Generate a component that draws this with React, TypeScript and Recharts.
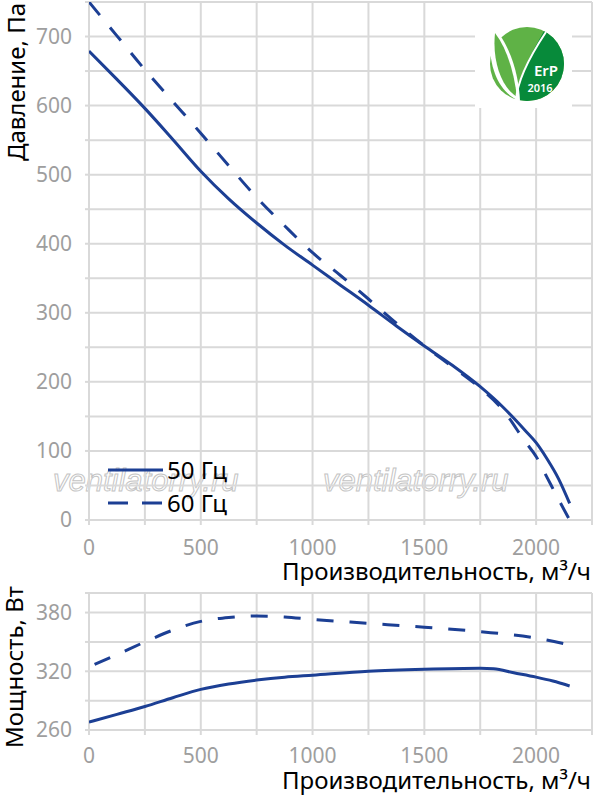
import { LineChart, Line, XAxis, YAxis, CartesianGrid, Legend } from 'recharts';

// давление, Па
const flowTop = [0, 125, 250, 375, 500, 625, 750, 875, 1000, 1125, 1250, 1375, 1500, 1625, 1750, 1850, 1950, 2000, 2050, 2100, 2150];
const pressure50 = [679, 638, 596, 551, 505, 465, 430, 398, 369, 340, 311, 281, 252, 224, 193, 164, 130, 112, 88, 60, 24];
const pressure60 = [750, 701, 652, 606, 560, 513, 467, 426, 387, 354, 320, 285, 252, 222, 191, 160, 114, 92, 61, 30, 0];

// мощность, Вт
const flowPower50 = [0, 125, 250, 375, 500, 625, 750, 875, 1000, 1250, 1500, 1750, 1810, 1900, 2000, 2075, 2150];
const power50 = [268, 276, 284, 293, 301.5, 307, 311, 314, 316, 320, 322, 323, 322.6, 318.5, 314, 310, 305];
const flowPower60 = [25, 125, 250, 375, 500, 625, 750, 875, 1000, 1250, 1500, 1750, 2000, 2150];
const power60 = [327, 337, 350, 362, 371, 375, 376.5, 375.5, 373, 369, 365, 360.5, 354, 347];

const xTicks = [0, 250, 500, 750, 1000, 1250, 1500, 1750, 2000, 2250];
const xLabels = [0, 500, 1000, 1500, 2000];
const pressureTicks = [0, 50, 100, 150, 200, 250, 300, 350, 400, 450, 500, 550, 600, 650, 700, 750];
const pressureLabels = [0, 100, 200, 300, 400, 500, 600, 700];
const powerTicks = [260, 290, 320, 350, 380, 400];
const powerLabels = [260, 320, 380];

const seriesNames = ['50 Гц', '60 Гц'];

const toPoints = (xs: number[], ys: number[]) => xs.map((x, i) => ({ x, y: ys[i] }));

const BLUE = '#1c3f94';
const GRID = '#d9d9d9';
const TICK = '#9e9e9e';
const FONT = '"Noto Sans", sans-serif';

const xTick = (props: any) => {
  const { x, y, payload } = props;
  if (!xLabels.includes(payload.value)) return <g />;
  return (
    <text x={x} y={y} dy="0.71em" textAnchor="middle" fill={TICK} fontSize={21} fontFamily={FONT}>
      {payload.value}
    </text>
  );
};

const yTick = (labels: number[]) => (props: any) => {
  const { x, y, payload } = props;
  if (!labels.includes(payload.value)) return <g />;
  return (
    <text x={x} y={y} dy="0.355em" textAnchor="end" fill={TICK} fontSize={21} fontFamily={FONT}>
      {payload.value}
    </text>
  );
};

const renderLegend = () => (
  <div style={{ fontFamily: FONT, fontSize: 24, color: '#000' }}>
    {seriesNames.map((name, i) => (
      <div key={name} style={{ display: 'flex', alignItems: 'center', height: 33 }}>
        <svg width={60} height={10}>
          <line
            x1={3}
            x2={58}
            y1={5}
            y2={5}
            stroke={BLUE}
            strokeWidth={3}
            strokeDasharray={i === 1 ? '20 14' : undefined}
          />
        </svg>
        <span style={{ marginLeft: 2, lineHeight: '33px' }}>{name}</span>
      </div>
    ))}
  </div>
);

function Watermark() {
  return (
    <svg width={597} height={798} style={{ position: 'absolute', left: 0, top: 0 }}>
      {[53, 323].map((x) => (
        <text
          key={x}
          x={x}
          y={491}
          fontFamily="Liberation Sans, Arial, sans-serif"
          fontStyle="italic"
          fontSize={31}
          fill="#fff"
          stroke="#c4c4c4"
          strokeWidth={1}
        >
          ventilatorry.ru
        </text>
      ))}
    </svg>
  );
}

function Overlay() {
  return (
    <svg width={597} height={798} style={{ position: 'absolute', left: 0, top: 0, pointerEvents: 'none' }}>
      <defs>
        <clipPath id="erp">
          <circle cx={527} cy={64} r={37} />
        </clipPath>
      </defs>
      <rect x={475} y={3} width={97} height={105} fill="#fff" />
      <g clipPath="url(#erp)">
        <rect x={488} y={25} width={80} height={80} fill="#5fb246" />
        <path d="M548 24 C532 52 516 80 515 104 L570 104 L570 24 Z" fill="#078a3a" />
      </g>
      <path d="M491 24 C486 60 496 92 520 101 C519 78 512 46 491 24 Z" fill="#fff" />
      <path d="M495 33 C492 62 502 88 517 97 C514 74 508 50 495 33 Z" fill="#5fb246" />
      <path d="M546 32 C530 56 517 80 516 101" fill="none" stroke="#fff" strokeWidth={2} />
      <text x={546} y={76} textAnchor="middle" fill="#fff" fontFamily={FONT} fontWeight={600} fontSize={15}>
        ErP
      </text>
      <text x={540} y={92} textAnchor="middle" fill="#fff" fontFamily={FONT} fontWeight={600} fontSize={11}>
        2016
      </text>

      <text transform="translate(25,82) rotate(-90)" textAnchor="middle" fontFamily={FONT} fontSize={24} fill="#000">
        Давление, Па
      </text>
      <text x={591} y={580} textAnchor="end" fontFamily={FONT} fontSize={24} fill="#000">
        Производительность, м³/ч
      </text>
      <text transform="translate(23,667) rotate(-90)" textAnchor="middle" fontFamily={FONT} fontSize={24} fill="#000">
        Мощность, Вт
      </text>
      <text x={591} y={789} textAnchor="end" fontFamily={FONT} fontSize={24} fill="#000">
        Производительность, м³/ч
      </text>
    </svg>
  );
}

export default function App() {
  return (
    <div style={{ position: 'absolute', left: 0, top: 0, width: 597, height: 798, background: '#fff' }}>
      <Watermark />
      <div style={{ position: 'absolute', left: 0, top: 0 }}>
        <LineChart width={597} height={590} margin={{ top: 2, right: 5, bottom: 0, left: 0 }}>
          <CartesianGrid stroke={GRID} strokeWidth={2} />
          <XAxis
            type="number"
            dataKey="x"
            domain={[0, 2250]}
            ticks={xTicks}
            interval={0}
            height={70}
            axisLine={false}
            tickLine={{ stroke: GRID, strokeWidth: 2 }}
            tickSize={5}
            tickMargin={15}
            tick={xTick}
            allowDataOverflow
          />
          <YAxis
            type="number"
            domain={[0, 750]}
            ticks={pressureTicks}
            interval={0}
            width={89}
            axisLine={false}
            tickLine={{ stroke: GRID, strokeWidth: 2 }}
            tickSize={4}
            tickMargin={13}
            tick={yTick(pressureLabels)}
            allowDataOverflow
          />
          <Legend
            layout="vertical"
            align="center"
            verticalAlign="middle"
            content={renderLegend}
            wrapperStyle={{ position: 'absolute', left: 105, top: 453, bottom: 'auto', width: 150 }}
          />
          <Line
            data={toPoints(flowTop, pressure50)}
            dataKey="y"
            name={seriesNames[0]}
            type="monotone"
            stroke={BLUE}
            strokeWidth={3}
            dot={false}
            isAnimationActive={false}
          />
          <Line
            data={toPoints(flowTop, pressure60)}
            dataKey="y"
            name={seriesNames[1]}
            type="monotone"
            stroke={BLUE}
            strokeWidth={3}
            strokeDasharray="17 16"
            dot={false}
            isAnimationActive={false}
          />
        </LineChart>
      </div>
      <div style={{ position: 'absolute', left: 0, top: 580 }}>
        <LineChart width={597} height={218} margin={{ top: 13, right: 5, bottom: 0, left: 0 }}>
          <CartesianGrid stroke={GRID} strokeWidth={2} />
          <XAxis
            type="number"
            dataKey="x"
            domain={[0, 2250]}
            ticks={xTicks}
            interval={0}
            height={68}
            axisLine={false}
            tickLine={{ stroke: GRID, strokeWidth: 2 }}
            tickSize={5}
            tickMargin={13}
            tick={xTick}
            allowDataOverflow
          />
          <YAxis
            type="number"
            domain={[260, 400]}
            ticks={powerTicks}
            interval={0}
            width={89}
            axisLine={false}
            tickLine={{ stroke: GRID, strokeWidth: 2 }}
            tickSize={4}
            tickMargin={13}
            tick={yTick(powerLabels)}
            allowDataOverflow
          />
          <Line
            data={toPoints(flowPower50, power50)}
            dataKey="y"
            name={seriesNames[0]}
            type="monotone"
            stroke={BLUE}
            strokeWidth={3}
            dot={false}
            isAnimationActive={false}
          />
          <Line
            data={toPoints(flowPower60, power60)}
            dataKey="y"
            name={seriesNames[1]}
            type="monotone"
            stroke={BLUE}
            strokeWidth={3}
            strokeDasharray="17 16"
            dot={false}
            isAnimationActive={false}
          />
        </LineChart>
      </div>
      <Overlay />
    </div>
  );
}
